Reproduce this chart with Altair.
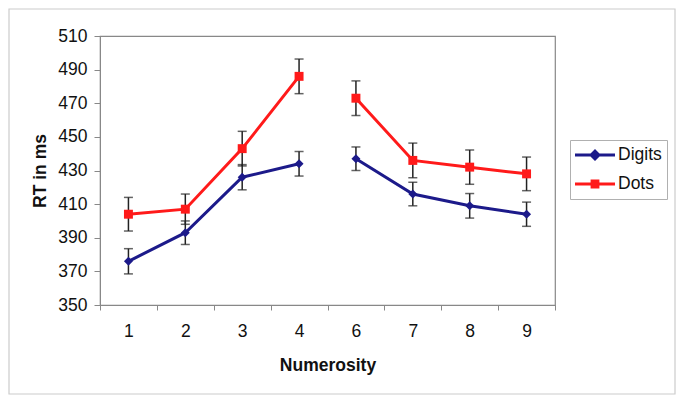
import altair as alt
import pandas as pd

numerosity = ["1", "2", "3", "4", "6", "7", "8", "9"]
series_names = ["Digits", "Dots"]
digits_rt = [376, 393, 426, 434, 437, 416, 409, 404]
dots_rt = [404, 407, 443, 486, 473, 436, 432, 428]
digits_err = [7.5, 7, 7.5, 7.3, 7, 7, 7.3, 7.2]
dots_err = [10, 9, 10.3, 10.3, 10.3, 10.3, 10.2, 10]
y_ticks = [350, 370, 390, 410, 430, 450, 470, 490, 510]

rows = []
for name, vals, errs in [("Digits", digits_rt, digits_err), ("Dots", dots_rt, dots_err)]:
    for n, v, e in zip(numerosity, vals, errs):
        rows.append({"num": n, "series": name, "lg": name, "rt": v,
                     "lo": v - e, "hi": v + e,
                     "seg": "low" if int(n) < 5 else "high"})
df = pd.DataFrame(rows)

FONT = "Liberation Sans"
FS = 17.5
colors = ["#1C1A8A", "#FF1A1A"]

x_axis = alt.Axis(title="Numerosity", labelAngle=0, tickBand="extent",
                  labelFontSize=FS, labelFont=FONT, labelColor="#111",
                  titleFontSize=FS, titleFont=FONT, titleFontWeight="bold",
                  titleColor="#111", tickSize=5, tickColor="#888",
                  domainColor="#888", labelPadding=12, titlePadding=17,
                  grid=False)
x_scale = alt.Scale(type="band", domain=numerosity, paddingInner=0, paddingOuter=0)
y_scale = alt.Scale(domain=[350, 510], nice=False, zero=False)
y_axis = alt.Axis(title="RT in ms", values=y_ticks, labelFontSize=FS, labelFont=FONT,
                  labelColor="#111", titleFontSize=FS, titleFont=FONT,
                  titleFontWeight="bold", titleColor="#111", tickSize=6,
                  tickColor="#888", domainColor="#888", labelPadding=7,
                  titlePadding=8, grid=False, labelOverlap=False)


def X():
    return alt.X("num:N", sort=numerosity, scale=x_scale, axis=x_axis)


def Y(field):
    return alt.Y(field, scale=y_scale, axis=y_axis, title="RT in ms")


color_main = alt.Color("series:N", scale=alt.Scale(domain=series_names, range=colors), legend=None)

base = alt.Chart(df)

border = alt.Chart(alt.Data(values=[{"a": 1}])).mark_rect(
    fill=None, stroke="#cccccc", strokeWidth=1.2
).encode(x=alt.value(-91), x2=alt.value(575), y=alt.value(-27), y2=alt.value(358))

lines = base.mark_line(strokeWidth=3).encode(
    x=X(), y=Y("rt:Q"), color=color_main, detail="seg:N")

err_rules = base.mark_rule(color="#222", strokeWidth=1.5).encode(
    x=X(), y=Y("lo:Q"), y2="hi:Q")
cap_lo = base.mark_tick(color="#222", thickness=1.5, size=9).encode(
    x=X(), y=Y("lo:Q"))
cap_hi = base.mark_tick(color="#222", thickness=1.5, size=9).encode(
    x=X(), y=Y("hi:Q"))

points = base.mark_point(filled=True, opacity=1, size=80).encode(
    x=X(), y=Y("rt:Q"), color=color_main,
    shape=alt.Shape("series:N", scale=alt.Scale(domain=series_names, range=["diamond", "square"]),
                    legend=None))

digits_sym = "M-1,-0.08H1V0.08H-1Z M0,-0.3L0.3,0L0,0.3L-0.3,0Z"
dots_sym = "M-1,-0.08H1V0.08H-1Z M-0.22,-0.22H0.22V0.22H-0.22Z"

leg = dict(title=None, orient="none", legendX=470, legendY=104,
           symbolSize=1600, symbolStrokeWidth=0, clipHeight=20, rowPadding=9,
           labelFontSize=FS, labelFont=FONT, labelColor="#111", labelOffset=3,
           padding=5, strokeColor="#b0b0b0", fillColor="white")

legend_layer = base.transform_filter("false").mark_point(filled=True, opacity=1).encode(
    x=X(), y=Y("rt:Q"),
    color=alt.Color("lg:N", scale=alt.Scale(domain=series_names, range=colors),
                    legend=alt.Legend(**leg)),
    shape=alt.Shape("lg:N", scale=alt.Scale(domain=series_names, range=[digits_sym, dots_sym]),
                    legend=alt.Legend(**leg)))

chart = alt.layer(border, lines, err_rules, cap_lo, cap_hi, points, legend_layer).resolve_scale(
    color="independent", shape="independent"
).properties(
    width=455, height=269,
    autosize=alt.AutoSizeParams(type="none"),
    padding={"left": 92, "top": 28, "right": 122, "bottom": 90},
    background="white",
).configure_view(stroke="#888", strokeWidth=1.2)

chart.save("out.html", embed_options={"renderer": "svg", "actions": False})
